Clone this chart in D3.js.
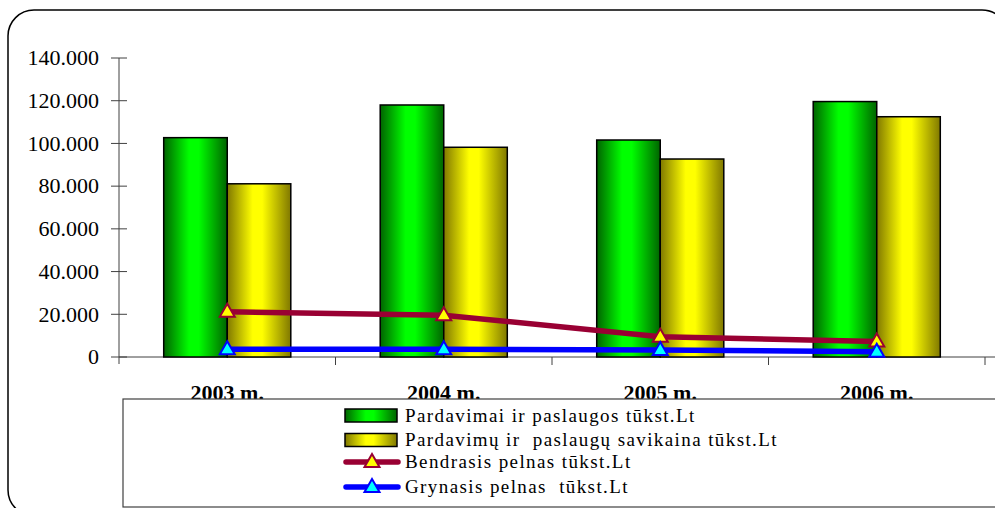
<!DOCTYPE html>
<body style="margin:0">
<svg width="995" height="508"></svg>
<script src="https://d3js.org/d3.v7.min.js"></script>
<script>

var years = ["2003 m.", "2004 m.", "2005 m.", "2006 m."];
var pardavimai = [102700, 118000, 101600, 119600];
var savikaina = [81100, 98200, 92700, 112500];
var bendrasis = [21200, 19600, 9500, 7200];
var grynasis = [3600, 3600, 3300, 2500];
var yTicks = [0, 20000, 40000, 60000, 80000, 100000, 120000, 140000];

var barKeys = ["Pardavimai ir paslaugos tūkst.Lt", "Pardavimų ir  paslaugų savikaina tūkst.Lt"];
var lineKeys = ["Bendrasis pelnas tūkst.Lt", "Grynasis pelnas  tūkst.Lt"];

var FONT = "Liberation Serif";
var svg = d3.select("svg");

var defs = svg.append("defs");
function grad(id, dark, light) {
  var g = defs.append("linearGradient").attr("id", id).attr("x1", "0%").attr("x2", "100%");
  g.append("stop").attr("offset", "0%").attr("stop-color", dark);
  g.append("stop").attr("offset", "40%").attr("stop-color", light);
  g.append("stop").attr("offset", "55%").attr("stop-color", light);
  g.append("stop").attr("offset", "100%").attr("stop-color", dark);
}
grad("gGreen", "#006400", "#00ff00");
grad("gYellow", "#807800", "#ffff00");

// outer frame
svg.append("rect")
    .attr("x", 8).attr("y", 10)
    .attr("width", 1000).attr("height", 506)
    .attr("rx", 26).attr("ry", 26)
    .attr("fill", "#fff").attr("stroke", "#000").attr("stroke-width", 1.5);

var x0 = d3.scaleBand()
    .domain(years)
    .range([119, 985])
    .paddingInner(0.413)
    .paddingOuter(0.2065);

var x1 = d3.scaleBand()
    .domain([0, 1])
    .range([0, x0.bandwidth()]);

var y = d3.scaleLinear()
    .domain([0, 140000])
    .range([357, 58]);

var axisColor = "#404040";

// y axis
var yAxis = svg.append("g");
yAxis.append("line")
    .attr("x1", 119).attr("x2", 119)
    .attr("y1", y(140000)).attr("y2", 364)
    .attr("stroke", axisColor);
yAxis.selectAll("line.tk")
    .data(yTicks)
    .enter().append("line")
    .attr("class", "tk")
    .attr("x1", 111).attr("x2", 127)
    .attr("y1", function(d) { return y(d); })
    .attr("y2", function(d) { return y(d); })
    .attr("stroke", axisColor);
yAxis.selectAll("text")
    .data(yTicks)
    .enter().append("text")
    .attr("x", 99)
    .attr("y", function(d) { return y(d); })
    .attr("dy", "0.33em")
    .attr("text-anchor", "end")
    .attr("font-size", 22)
    .style("font-family", FONT)
    .text(function(d) { return d === 0 ? "0" : d3.format(",")(d).replace(/,/g, "."); });

// x axis
var xAxis = svg.append("g");
xAxis.append("line")
    .attr("x1", 119).attr("x2", 995)
    .attr("y1", y(0)).attr("y2", y(0))
    .attr("stroke", axisColor);
xAxis.selectAll("line.tk")
    .data(years)
    .enter().append("line")
    .attr("class", "tk")
    .attr("x1", function(d) { return x0(d) + x0.bandwidth() / 2 + x0.step() / 2; })
    .attr("x2", function(d) { return x0(d) + x0.bandwidth() / 2 + x0.step() / 2; })
    .attr("y1", y(0)).attr("y2", y(0) + 8)
    .attr("stroke", axisColor);

// bars
var series = [pardavimai, savikaina];
var fills = ["url(#gGreen)", "url(#gYellow)"];
var groups = svg.append("g")
  .selectAll("g")
  .data(years)
  .enter().append("g")
    .attr("transform", function(d) { return "translate(" + x0(d) + ",0)"; });

groups.selectAll("rect")
    .data(function(d, i) { return series.map(function(s, k) { return {k: k, v: s[i]}; }); })
    .enter().append("rect")
    .attr("x", function(d) { return x1(d.k); })
    .attr("y", function(d) { return y(d.v); })
    .attr("width", x1.bandwidth())
    .attr("height", function(d) { return y(0) - y(d.v); })
    .attr("fill", function(d) { return fills[d.k]; })
    .attr("stroke", "#000")
    .attr("stroke-width", 1.5);

// category labels
svg.append("g")
  .selectAll("text")
  .data(years)
  .enter().append("text")
    .attr("x", function(d) { return x0(d) + x0.bandwidth() / 2; })
    .attr("y", 400)
    .attr("text-anchor", "middle")
    .attr("font-size", 22)
    .attr("font-weight", "bold")
    .style("font-family", FONT)
    .text(function(d) { return d; });

// lines
var lineSeries = [
  {vals: bendrasis, color: "#990033", fill: "#ffff00"},
  {vals: grynasis, color: "#0000ff", fill: "#00ffff"}
];
var cx = function(i) { return x0(years[i]) + x0.bandwidth() / 2; };
var line = d3.line()
    .x(function(d, i) { return cx(i); })
    .y(function(d) { return y(d); });

function tri(px, py) {
  return "M" + px + "," + (py - 8) + "L" + (px + 7.5) + "," + (py + 5) + "L" + (px - 7.5) + "," + (py + 5) + "Z";
}

lineSeries.forEach(function(s) {
  svg.append("path")
      .datum(s.vals)
      .attr("d", line)
      .attr("fill", "none")
      .attr("stroke", s.color)
      .attr("stroke-width", 5.5);
});
lineSeries.forEach(function(s) {
  svg.append("g")
    .selectAll("path")
    .data(s.vals)
    .enter().append("path")
      .attr("d", function(d, i) { return tri(cx(i), y(d)); })
      .attr("fill", s.fill)
      .attr("stroke", s.color)
      .attr("stroke-width", 2);
});

// legend
var legend = svg.append("g");
legend.append("rect")
    .attr("x", 123).attr("y", 399)
    .attr("width", 890).attr("height", 108)
    .attr("fill", "#fff")
    .attr("stroke", axisColor)
    .attr("stroke-width", 1.2);

var rowY = [415.5, 440, 462, 487];
function legendText(k, ly) {
  legend.append("text")
      .attr("x", 405).attr("y", ly)
      .attr("dy", "0.33em")
      .attr("font-size", 19)
      .attr("letter-spacing", 1.4)
      .style("font-family", FONT)
      .style("white-space", "pre")
      .text(k);
}
barKeys.forEach(function(k, i) {
  legend.append("rect")
      .attr("x", 345).attr("y", rowY[i] - 6.5)
      .attr("width", 52).attr("height", 13)
      .attr("fill", fills[i])
      .attr("stroke", "#000")
      .attr("stroke-width", 1.5);
  legendText(k, rowY[i]);
});
lineKeys.forEach(function(k, i) {
  var ly = rowY[i + 2];
  legend.append("line")
      .attr("x1", 346).attr("x2", 398)
      .attr("y1", ly).attr("y2", ly)
      .attr("stroke", lineSeries[i].color)
      .attr("stroke-width", 5.5)
      .attr("stroke-linecap", "round");
  legend.append("path")
      .attr("d", tri(372, ly))
      .attr("fill", lineSeries[i].fill)
      .attr("stroke", lineSeries[i].color)
      .attr("stroke-width", 2);
  legendText(k, ly);
});

</script>
</body>
